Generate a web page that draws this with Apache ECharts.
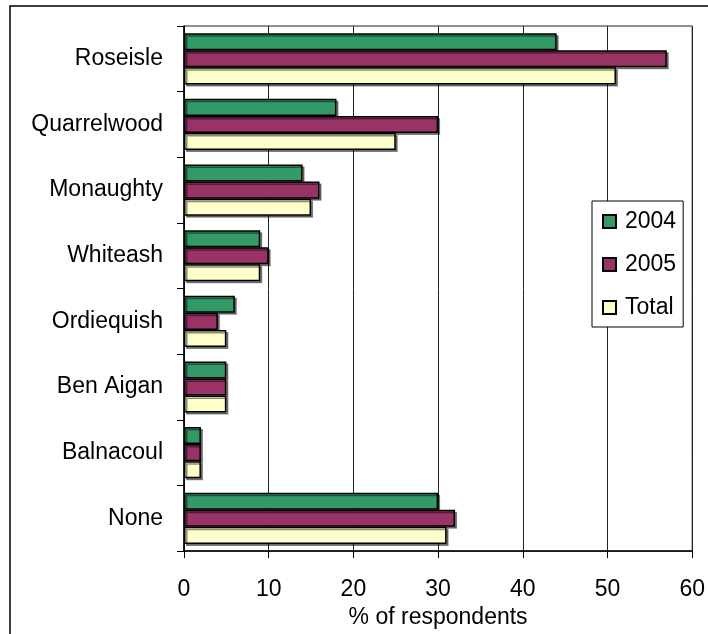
<!DOCTYPE html>
<html>
<head>
<meta charset="utf-8">
<script src="https://cdn.jsdelivr.net/npm/echarts@6/dist/echarts.min.js"></script>
<style>
html,body{margin:0;padding:0;background:#fff;}
#chart{width:708px;height:634px;}
</style>
</head>
<body>
<div id="chart"></div>
<script>
const categories = ['Roseisle','Quarrelwood','Monaughty','Whiteash','Ordiequish','Ben Aigan','Balnacoul','None'];
const values2004 = [44, 18, 14, 9, 6, 5, 2, 30];
const values2005 = [57, 30, 16, 10, 4, 5, 2, 32];
const valuesTotal = [51, 25, 15, 9, 5, 5, 2, 31];
const seriesNames = ['2004','2005','Total'];
const seriesColors = ['#339966','#993366','#FFFFCC'];
const xTicks = {min:0, max:60, interval:10};

const font = 'Liberation Sans, Arial, sans-serif';
const chart = echarts.init(document.getElementById('chart'));
const allValues = [values2004, values2005, valuesTotal];

chart.setOption({
  animation:false,
  backgroundColor:'#fff',
  graphic:[{
    type:'rect', z:-10, silent:true,
    shape:{x:10, y:6, width:720, height:660},
    style:{fill:'none', stroke:'#000', lineWidth:1.5}
  }],
  grid:{left:184, top:26, right:12, bottom:82, show:true, borderColor:'#222', borderWidth:1, backgroundColor:'#fff'},
  legend:{
    orient:'vertical',
    left:592, top:201,
    data:seriesNames,
    itemWidth:13, itemHeight:13, itemGap:20,
    padding:[9,7,8,10],
    borderColor:'#000', borderWidth:1, backgroundColor:'#fff',
    icon:'rect',
    textStyle:{fontFamily:font, fontSize:23, color:'#000', padding:[0,0,0,4]}
  },
  xAxis:{
    type:'value', min:xTicks.min, max:xTicks.max, interval:xTicks.interval,
    name:'% of respondents', nameLocation:'middle', nameGap:49,
    nameTextStyle:{fontFamily:font, fontSize:23, color:'#000'},
    axisLine:{show:true, lineStyle:{color:'#000', width:1.5}},
    axisTick:{show:true, length:7, lineStyle:{color:'#000'}},
    axisLabel:{fontFamily:font, fontSize:23, color:'#000', margin:27},
    splitLine:{show:true, lineStyle:{color:'#222', width:1}}
  },
  yAxis:{
    type:'category', data:categories, inverse:true,
    axisLine:{show:true, lineStyle:{color:'#000', width:1.5}},
    axisTick:{show:true, length:7, lineStyle:{color:'#000'}},
    axisLabel:{fontFamily:font, fontSize:23, color:'#000', margin:21}
  },
  series: seriesNames.map((n,i)=>({
    name:n, type:'bar', data:allValues[i],
    barGap:'0%', barCategoryGap:'22%',
    itemStyle:{color:seriesColors[i], borderColor:'#000', borderWidth:1.5,
      shadowColor:'rgba(0,0,0,0.45)', shadowOffsetX:2, shadowOffsetY:2, shadowBlur:0}
  }))
});
</script>
</body>
</html>
